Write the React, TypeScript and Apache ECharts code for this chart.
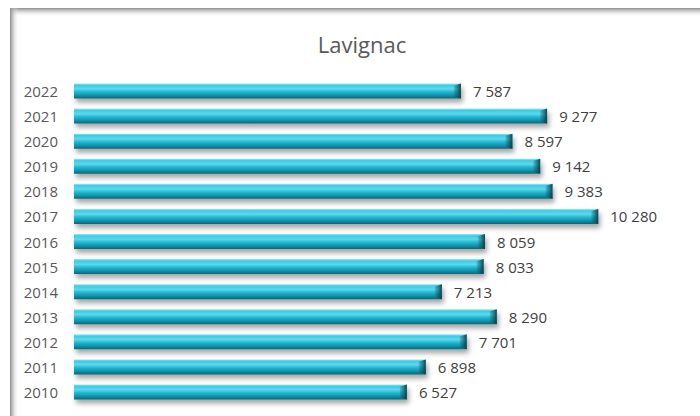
import React, { useEffect, useRef } from "react";
import * as echarts from "echarts";

const years = ["2010", "2011", "2012", "2013", "2014", "2015", "2016", "2017", "2018", "2019", "2020", "2021", "2022"];
const values = [6527, 6898, 7701, 8290, 7213, 8033, 8059, 10280, 9383, 9142, 8597, 9277, 7587];
const title = "Lavignac";

const fmt = (v: number) => String(v).replace(/\B(?=(\d{3})+(?!\d))/g, " ");

export default function App() {
  const ref = useRef<HTMLDivElement>(null);
  useEffect(() => {
    const chart = echarts.init(ref.current!, null, { renderer: "svg" });
    const barGrad = new echarts.graphic.LinearGradient(0, 0, 0, 1, [
      { offset: 0, color: "#9be9f5" },
      { offset: 0.12, color: "#3ccbe2" },
      { offset: 0.35, color: "#5fd8ec" },
      { offset: 0.55, color: "#22b9d3" },
      { offset: 0.8, color: "#1190a8" },
      { offset: 1, color: "#0a6576" },
    ]);
    chart.setOption({
      animation: false,
      backgroundColor: "#ffffff",
      title: {
        text: title,
        left: 357,
        textAlign: "center",
        top: 28,
        textStyle: { fontFamily: "Open Sans", fontSize: 22, fontWeight: "normal", color: "#595959" },
      },
      graphic: [
        {
          type: "rect",
          left: 10,
          top: 8,
          shape: { width: 690, height: 9 },
          style: {
            fill: new echarts.graphic.LinearGradient(0, 0, 0, 1, [
              { offset: 0, color: "rgba(140,140,140,1)" },
              { offset: 1, color: "rgba(255,255,255,0)" },
            ]),
          },
        },
        {
          type: "rect",
          left: 10,
          top: 8,
          shape: { width: 9, height: 408 },
          style: {
            fill: new echarts.graphic.LinearGradient(0, 0, 1, 0, [
              { offset: 0, color: "rgba(140,140,140,1)" },
              { offset: 1, color: "rgba(255,255,255,0)" },
            ]),
          },
        },
      ],
      grid: { left: 74, right: 14, top: 78.5, bottom: 11.5, containLabel: false },
      xAxis: { type: "value", min: 0, max: 12000, show: false },
      yAxis: {
        type: "category",
        data: years,
        axisLine: { show: false },
        axisTick: { show: false },
        axisLabel: { margin: 16, fontFamily: "Open Sans", fontSize: 15, color: "#595959" },
      },
      series: [
        {
          type: "bar",
          data: values,
          barWidth: 15,
          itemStyle: {
            color: barGrad,
            shadowColor: "rgba(0,0,0,0.35)",
            shadowBlur: 5,
            shadowOffsetY: 4,
            shadowOffsetX: 2,
          },
          label: {
            show: true,
            position: "right",
            distance: 12,
            fontFamily: "Open Sans",
            fontSize: 15,
            color: "#404040",
            formatter: (p: any) => fmt(p.value),
          },
        },
        {
          type: "custom",
          data: values.map((v, i) => [v, i]),
          encode: { x: 0, y: 1 },
          silent: true,
          z: 3,
          renderItem: (params: any, api: any) => {
            const p = api.coord([api.value(0), api.value(1)]);
            const h = 15;
            return {
              type: "polygon",
              shape: {
                points: [
                  [p[0] - 7, p[1] - h / 2 + 2],
                  [p[0], p[1] - h / 2],
                  [p[0], p[1] + h / 2],
                  [p[0] - 7, p[1] + h / 2 - 2],
                ],
              },
              style: {
                fill: new echarts.graphic.LinearGradient(0, 0, 1, 0, [
                  { offset: 0, color: "rgba(10,90,105,0.2)" },
                  { offset: 1, color: "rgba(8,60,72,0.95)" },
                ]),
              },
            };
          },
        },
      ],
    });
    return () => chart.dispose();
  }, []);
  return <div ref={ref} style={{ position: "fixed", left: 0, top: 0, width: 700, height: 416 }} />;
}
